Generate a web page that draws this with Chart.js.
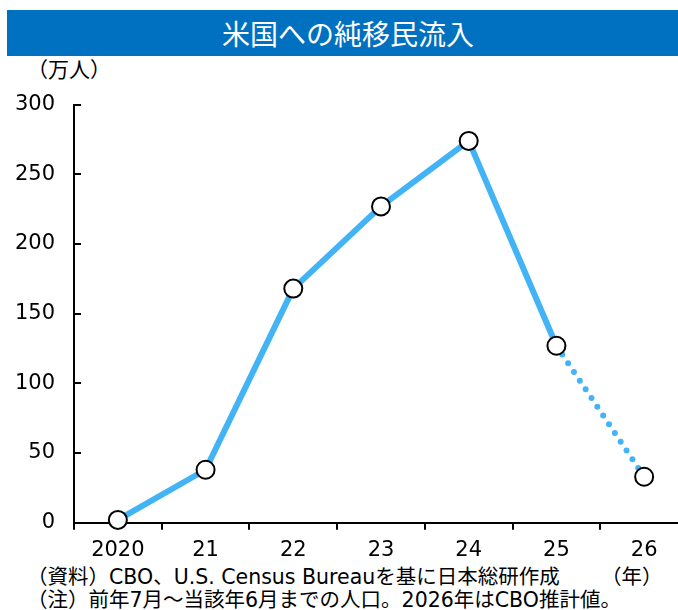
<!DOCTYPE html>
<html lang="ja">
<head>
<meta charset="utf-8">
<script src="https://cdn.jsdelivr.net/npm/chart.js@4/dist/chart.umd.min.js"></script>
<style>
  html, body { margin: 0; padding: 0; background: #fff; width: 678px; height: 610px; overflow: hidden; position: relative; }
  #title { position: absolute; left: 7px; top: 10px; width: 671px; height: 46px; background: #0070C0; color: #fff;
           font-family: "Noto Sans CJK JP", sans-serif; font-size: 28px; line-height: 46px; text-align: center; box-sizing: border-box; padding-left: 11px; }
  .txt { position: absolute; font-family: "DejaVu Sans", "Noto Sans CJK JP", sans-serif; font-size: 20.5px; color: #000; white-space: nowrap; line-height: 24px; }
  canvas { position: absolute; left: 0; top: 0; }
</style>
</head>
<body>
<div id="title">米国への純移民流入</div>
<div class="txt" id="unit" style="left:27px; top:58px; font-size:21px;">（万人）</div>
<div class="txt" style="left:27px; top:565px;">（資料）CBO、U.S. Census Bureauを基に日本総研作成</div>
<div class="txt" style="left:601px; top:565px;">（年）</div>
<div class="txt" style="left:27px; top:588px;">（注）前年7月～当該年6月までの人口。2026年はCBO推計値。</div>
<canvas id="c" width="700" height="610" style="width:700px;height:610px;"></canvas>
<script>
const categories = ['2020', '21', '22', '23', '24', '25', '26'];
const netInflow = [2, 38, 168, 227, 274, 127, 33];
const yMin = 0, yMax = 300, yStep = 50;
const estimateFromIndex = 5; // segment 25 -> 26 is CBO estimate (dotted)

const innerTicks = {
  id: 'innerTicks',
  afterDraw(chart) {
    const y = chart.scales.y, ctx = chart.ctx, left = chart.chartArea.left;
    ctx.save();
    ctx.strokeStyle = '#000';
    ctx.lineWidth = 2;
    y.ticks.forEach(t => {
      const py = Math.round(y.getPixelForValue(t.value));
      ctx.beginPath();
      ctx.moveTo(left, py);
      ctx.lineTo(left + 7, py);
      ctx.stroke();
    });
    ctx.restore();
  }
};

new Chart(document.getElementById('c'), {
  type: 'line',
  data: {
    labels: categories,
    datasets: [{
      data: netInflow,
      borderColor: '#42B4F6',
      borderWidth: 6,
      borderCapStyle: 'round',
      borderJoinStyle: 'round',
      pointRadius: 9,
      pointHoverRadius: 9,
      pointBorderWidth: 2,
      pointBackgroundColor: '#fff',
      pointBorderColor: '#000',
      clip: false,
      tension: 0,
      segment: {
        borderDash: ctx => ctx.p0DataIndex >= estimateFromIndex ? [0, 10.5] : undefined
      }
    }]
  },
  options: {
    responsive: false,
    animation: false,
    devicePixelRatio: 1,
    layout: { padding: { top: 104.7, right: 12, bottom: 0, left: 0 } },
    plugins: { legend: { display: false }, tooltip: { enabled: false }, title: { display: false } },
    scales: {
      x: {
        type: 'category',
        offset: true,
        grid: { offset: true, drawOnChartArea: false, drawTicks: true, tickLength: 7, color: '#000', lineWidth: 2 },
        border: { display: true, color: '#000', width: 2 },
        ticks: { color: '#000', font: { family: 'DejaVu Sans', size: 21 }, padding: 8, maxRotation: 0, autoSkip: false },
        afterFit(scale) { scale.height = 610 - 522.7; }
      },
      y: {
        min: yMin, max: yMax,
        grid: { drawOnChartArea: false, drawTicks: false },
        border: { display: true, color: '#000', width: 2 },
        ticks: { stepSize: yStep, color: '#000', font: { family: 'DejaVu Sans', size: 21 }, padding: 19 },
        afterFit(scale) { scale.width = 74; }
      }
    }
  },
  plugins: [innerTicks]
});
</script>
</body>
</html>
